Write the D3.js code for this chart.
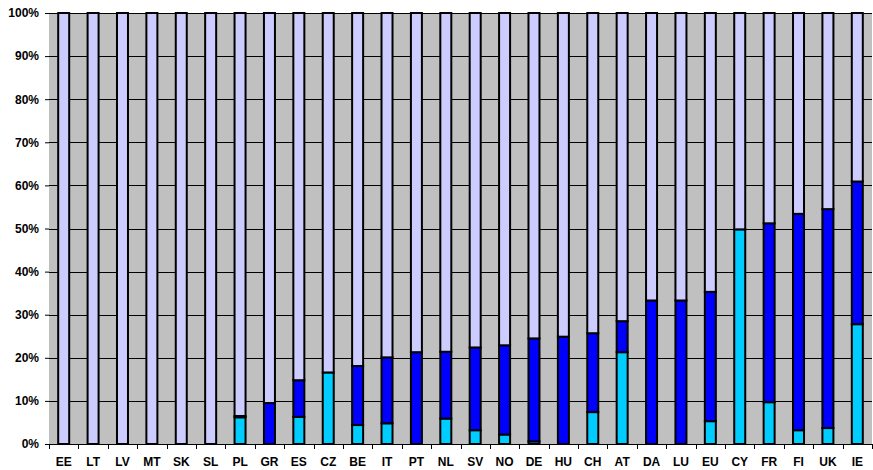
<!DOCTYPE html>
<html>
<head>
<meta charset="utf-8">
<script src="https://cdn.jsdelivr.net/npm/d3@7"></script>
<style>
  html, body { margin: 0; padding: 0; background: #fff; }
  svg { display: block; }
  text { font-family: "Liberation Sans", Arial, sans-serif; font-weight: bold; font-size: 12px; fill: #000; }
</style>
</head>
<body>
<svg id="chart" width="873" height="470"></svg>
<script>
const categories = ["EE","LT","LV","MT","SK","SL","PL","GR","ES","CZ","BE","IT","PT","NL","SV","NO","DE","HU","CH","AT","DA","LU","EU","CY","FR","FI","UK","IE"];
const cyanValues  = [0,0,0,0,0,0,6.2,0,6.3,16.6,4.4,4.8,0,5.9,3.2,2.2,0.6,0,7.4,21.3,0,0,5.3,49.8,9.7,3.2,3.7,27.8];
const blueTops    = [0,0,0,0,0,0,6.5,9.5,14.8,16.6,18.1,20.1,21.3,21.4,22.4,22.9,24.5,24.9,25.7,28.5,33.3,33.3,35.3,49.8,51.2,53.4,54.5,60.9];
const seriesNames = ["cyan","blue","lavender"];
const yTicks = [0,10,20,30,40,50,60,70,80,90,100];

const blueValues = blueTops.map((t, i) => +(t - cyanValues[i]).toFixed(1));
const lavValues = blueTops.map(t => +(100 - t).toFixed(1));
const colors = { cyan: "#00CCFF", blue: "#0000FF", lavender: "#CCCCFF" };

const rows = categories.map((c, i) => ({ cat: c, cyan: cyanValues[i], blue: blueValues[i], lavender: lavValues[i] }));

const margin = { left: 49, right: 1, top: 13, bottom: 26 };
const W = 873, H = 470;
const svg = d3.select("#chart");

const x = d3.scaleBand().domain(categories).range([margin.left, W - margin.right]).paddingInner(0).paddingOuter(0);
const y = d3.scaleLinear().domain([0, 100]).range([H - margin.bottom, margin.top]);

svg.append("rect")
  .attr("x", margin.left).attr("y", margin.top)
  .attr("width", W - margin.right - margin.left).attr("height", y(0) - margin.top)
  .attr("fill", "#C0C0C0");

svg.append("g").selectAll("line").data(yTicks).join("line")
  .attr("x1", margin.left).attr("x2", W - margin.right)
  .attr("y1", d => Math.round(y(d)) + 0.5).attr("y2", d => Math.round(y(d)) + 0.5)
  .attr("stroke", "#000").attr("stroke-width", 1);

const stack = d3.stack().keys(seriesNames)(rows);
const bw = 11;
svg.append("g").selectAll("g").data(stack).join("g")
  .attr("fill", d => colors[d.key])
  .selectAll("rect").data(d => d.filter(p => p[1] - p[0] > 0)).join("rect")
  .attr("x", d => x(d.data.cat) + x.bandwidth() / 2 - bw / 2)
  .attr("width", bw)
  .attr("y", d => y(d[1]))
  .attr("height", d => y(d[0]) - y(d[1]))
  .attr("stroke", "#000").attr("stroke-width", 2);

// y axis
const yAxis = d3.axisLeft(y).tickValues(yTicks).tickFormat(d => d + "%").tickSize(4).tickPadding(6);
const gy = svg.append("g").attr("transform", `translate(${margin.left},0)`).call(yAxis);
gy.select(".domain").remove();
gy.selectAll("text").attr("font-size", null).attr("font-family", null);

// x axis
const xAxis = d3.axisBottom(x).tickSize(0).tickPadding(13);
const gx = svg.append("g").attr("transform", `translate(0,${y(0)})`).call(xAxis);
gx.select(".domain").attr("stroke", "#000");
gx.selectAll("text").attr("font-size", null).attr("font-family", null);
// boundary ticks
const bounds = categories.map(c => x(c)).concat([x(categories[categories.length - 1]) + x.bandwidth()]);
gx.append("g").selectAll("line").data(bounds).join("line")
  .attr("x1", d => Math.round(d) + 0.5).attr("x2", d => Math.round(d) + 0.5)
  .attr("y1", 0).attr("y2", 5).attr("stroke", "#000");
</script>
</body>
</html>
